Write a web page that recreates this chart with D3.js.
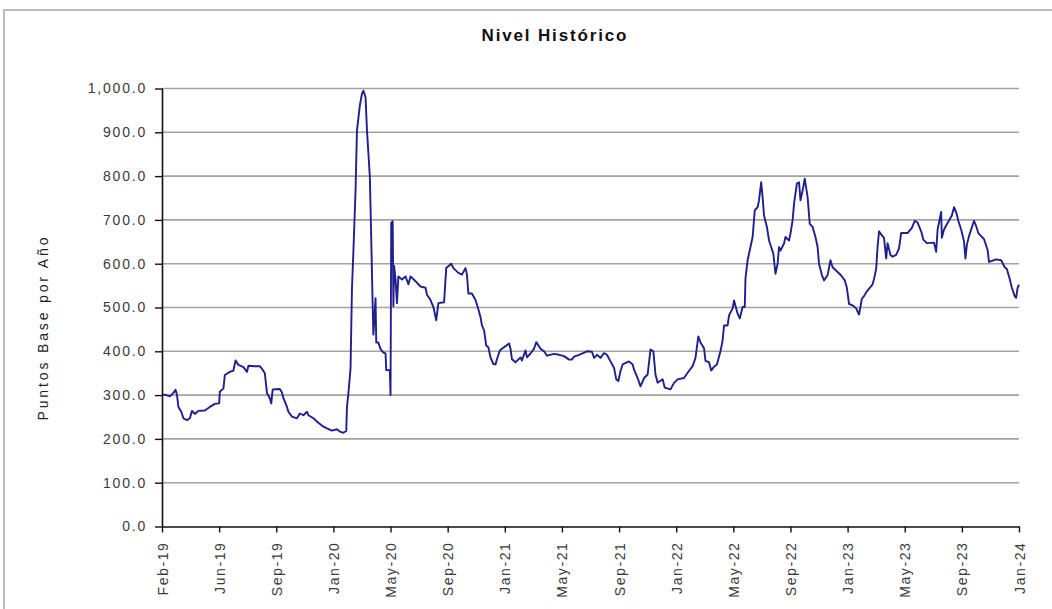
<!DOCTYPE html>
<html><head><meta charset="utf-8">
<script src="https://cdn.jsdelivr.net/npm/d3@7"></script>
<style>body{margin:0;background:#fff} svg{display:block;font-family:"Liberation Sans",Arial,sans-serif}</style>
</head><body><svg id="c" width="1052" height="609"></svg>
<script>
const chartTitle = "Nivel Histórico";
const yTitle = "Puntos Base por Año";
const xTickLabels = ["Feb-19","Jun-19","Sep-19","Jan-20","May-20","Sep-20","Jan-21","May-21","Sep-21","Jan-22","May-22","Sep-22","Jan-23","May-23","Sep-23","Jan-24"];
const obsPerTick = 80;
const yTicks = [0,100,200,300,400,500,600,700,800,900,1000];

// observation index (80 observations per labelled tick) and level in basis points
const obs = [0,4,11,16,19,21,23,27,30,35,39,42,46,51,60,67,74,80,81,86,88,95,100,103,107,114,119,121,130,137,140,144,147,151,153,155,165,168,170,175,177,182,189,193,198,203,205,212,219,226,231,238,245,250,254,258,259,261,264,
266,268,271,273,277,280,282,285,287,291,293,295,296,299,300,303,306,310,313,314,319,320,321,323,324,325,327,329,331,336,341,345,348,355,359,362,369,371,376,380,384,387,395,398,405,408,415,420,425,427,
429,434,439,443,446,448,451,454,457,460,464,467,469,473,476,482,486,488,490,495,502,504,509,511,516,521,524,530,535,539,549,556,
563,570,574,577,584,595,602,605,609,614,619,623,628,633,636,639,642,645,654,659,661,666,670,675,680,684,688,691,694,701,704,712,717,722,731,736,743,747,751,754,759,761,766,769,773,777,780,782,785,787,792,794,799,801,806,809,813,816,817,820,824,827,830,834,836,839,841,843,847,850,853,856,859,862,864,866,871,873,878,880,883,885,889,892,894,897,900,904,907,911,915,918,920,924,927,932,936,939,946,951,956,959,962,967,972,976,980,983,987,995,997,1000,1002,1004,1007,1011,1014,1016,1020,1023,1028,1032,1035,1044,1050,1054,1058,1063,1066,1071,1081,1084,1086,1091,1092,1095,1099,1106,1109,1112,1115,1119,1123,1125,1127,1130,1137,1140,1143,1151,1156,1158,1168,1175,1180,1183,1187,1190,1194,1196,1198,1200];
const values = [300,301,297,305,312,300,273,262,247,243,247,264,257,264,265,273,280,281,308,315,346,353,356,379,369,364,353,367,366,366,360,350,304,293,281,313,314,306,293,273,262,251,247,258,254,262,254,247,237,228,224,219,222,216,214,218,273,304,361,
544,628,766,904,961,988,995,980,905,800,656,503,438,521,420,420,405,397,395,357,357,300,693,697,503,595,564,510,571,564,571,553,571,560,553,548,545,529,517,501,471,510,512,590,600,590,579,575,590,575,
532,532,517,496,478,459,448,413,409,386,371,370,382,402,406,413,418,406,382,375,386,379,402,386,395,406,421,406,400,390,394,392,
389,381,381,388,392,400,399,385,392,385,396,392,377,362,336,332,355,370,377,370,358,339,320,339,347,404,400,347,328,336,317,313,328,336,339,351,366,385,434,420,407,378,375,356,365,370,388,400,425,459,459,482,498,516,486,475,501,501,566,608,638,661,722,729,745,786,752,710,684,653,638,623,577,600,638,630,646,661,653,669,699,737,783,786,745,767,794,752,691,684,661,638,600,574,562,574,608,592,581,573,562,545,508,505,498,484,520,526,537,553,565,588,639,674,667,659,612,647,620,616,620,635,670,670,682,698,694,674,655,647,648,627,678,718,659,678,690,710,729,718,698,678,651,612,643,663,698,686,670,656,632,604,610,608,592,588,565,545,526,522,545,552];

const svg = d3.select("#c");
const W = 1052, H = 609;
const m = {left:162, right:1019, top:88.5, bottom:526.5};

// outer chart border
svg.append("rect").attr("x",4).attr("y",10).attr("width",W+20).attr("height",H+20)
  .attr("fill","#fff").attr("stroke","#bdbdbd").attr("stroke-width",2);

const x = d3.scaleLinear().domain([0,(xTickLabels.length-1)*obsPerTick]).range([m.left,m.right]);
const y = d3.scaleLinear().domain([0,1000]).range([m.bottom,m.top]);

// gridlines
svg.append("g").selectAll("line").data(yTicks.filter(d=>d>0)).join("line")
  .attr("x1",m.left).attr("x2",m.right).attr("y1",d=>y(d)).attr("y2",d=>y(d))
  .attr("stroke","#a3a3a3").attr("stroke-width",1.6);

// line
const pts = obs.map((o,i)=>[o,values[i]]);
svg.append("path").datum(pts)
  .attr("fill","none").attr("stroke","#1f1f8f").attr("stroke-width",1.9).attr("stroke-linejoin","round")
  .attr("d", d3.line().x(d=>x(d[0])).y(d=>y(d[1])));

// y axis
const ya = svg.append("g").attr("transform",`translate(${m.left},0)`)
  .call(d3.axisLeft(y).tickValues(yTicks).tickFormat(d3.format(",.1f")).tickSize(7).tickSizeOuter(0).tickPadding(8));
ya.select(".domain").attr("stroke","#111").attr("stroke-width",1.6);
ya.selectAll(".tick line").attr("stroke","#111").attr("stroke-width",1.4).attr("x2",-7).attr("x1",1);
ya.selectAll("text").attr("font-size",14).attr("fill","#3a3a3a").attr("letter-spacing","1.8px")
  .attr("font-family","'Liberation Sans',Arial,sans-serif");

// x axis
const xa = svg.append("g").attr("transform",`translate(0,${m.bottom})`)
  .call(d3.axisBottom(x).tickValues(xTickLabels.map((d,i)=>i*obsPerTick)).tickFormat((d,i)=>xTickLabels[i]).tickSize(6).tickSizeOuter(0));
xa.select(".domain").attr("stroke","#111").attr("stroke-width",1.6);
xa.selectAll(".tick line").attr("stroke","#111").attr("stroke-width",1.4);
xa.selectAll("text").attr("font-size",14).attr("fill","#3a3a3a").attr("letter-spacing","1.6px")
  .attr("font-family","'Liberation Sans',Arial,sans-serif")
  .attr("transform","rotate(-90)").attr("text-anchor","end").attr("x",-15).attr("y",0).attr("dy","0.36em");

// title
svg.append("text").attr("x",554).attr("y",41).attr("text-anchor","middle")
  .attr("font-size",17).attr("font-weight","bold").attr("fill","#111")
  .attr("textLength",145).attr("lengthAdjust","spacing").text(chartTitle);

// y title
svg.append("text").attr("transform","translate(48,329) rotate(-90)").attr("text-anchor","middle")
  .attr("font-size",14).attr("fill","#222").attr("textLength",183).attr("lengthAdjust","spacing").text(yTitle);
</script></body></html>
